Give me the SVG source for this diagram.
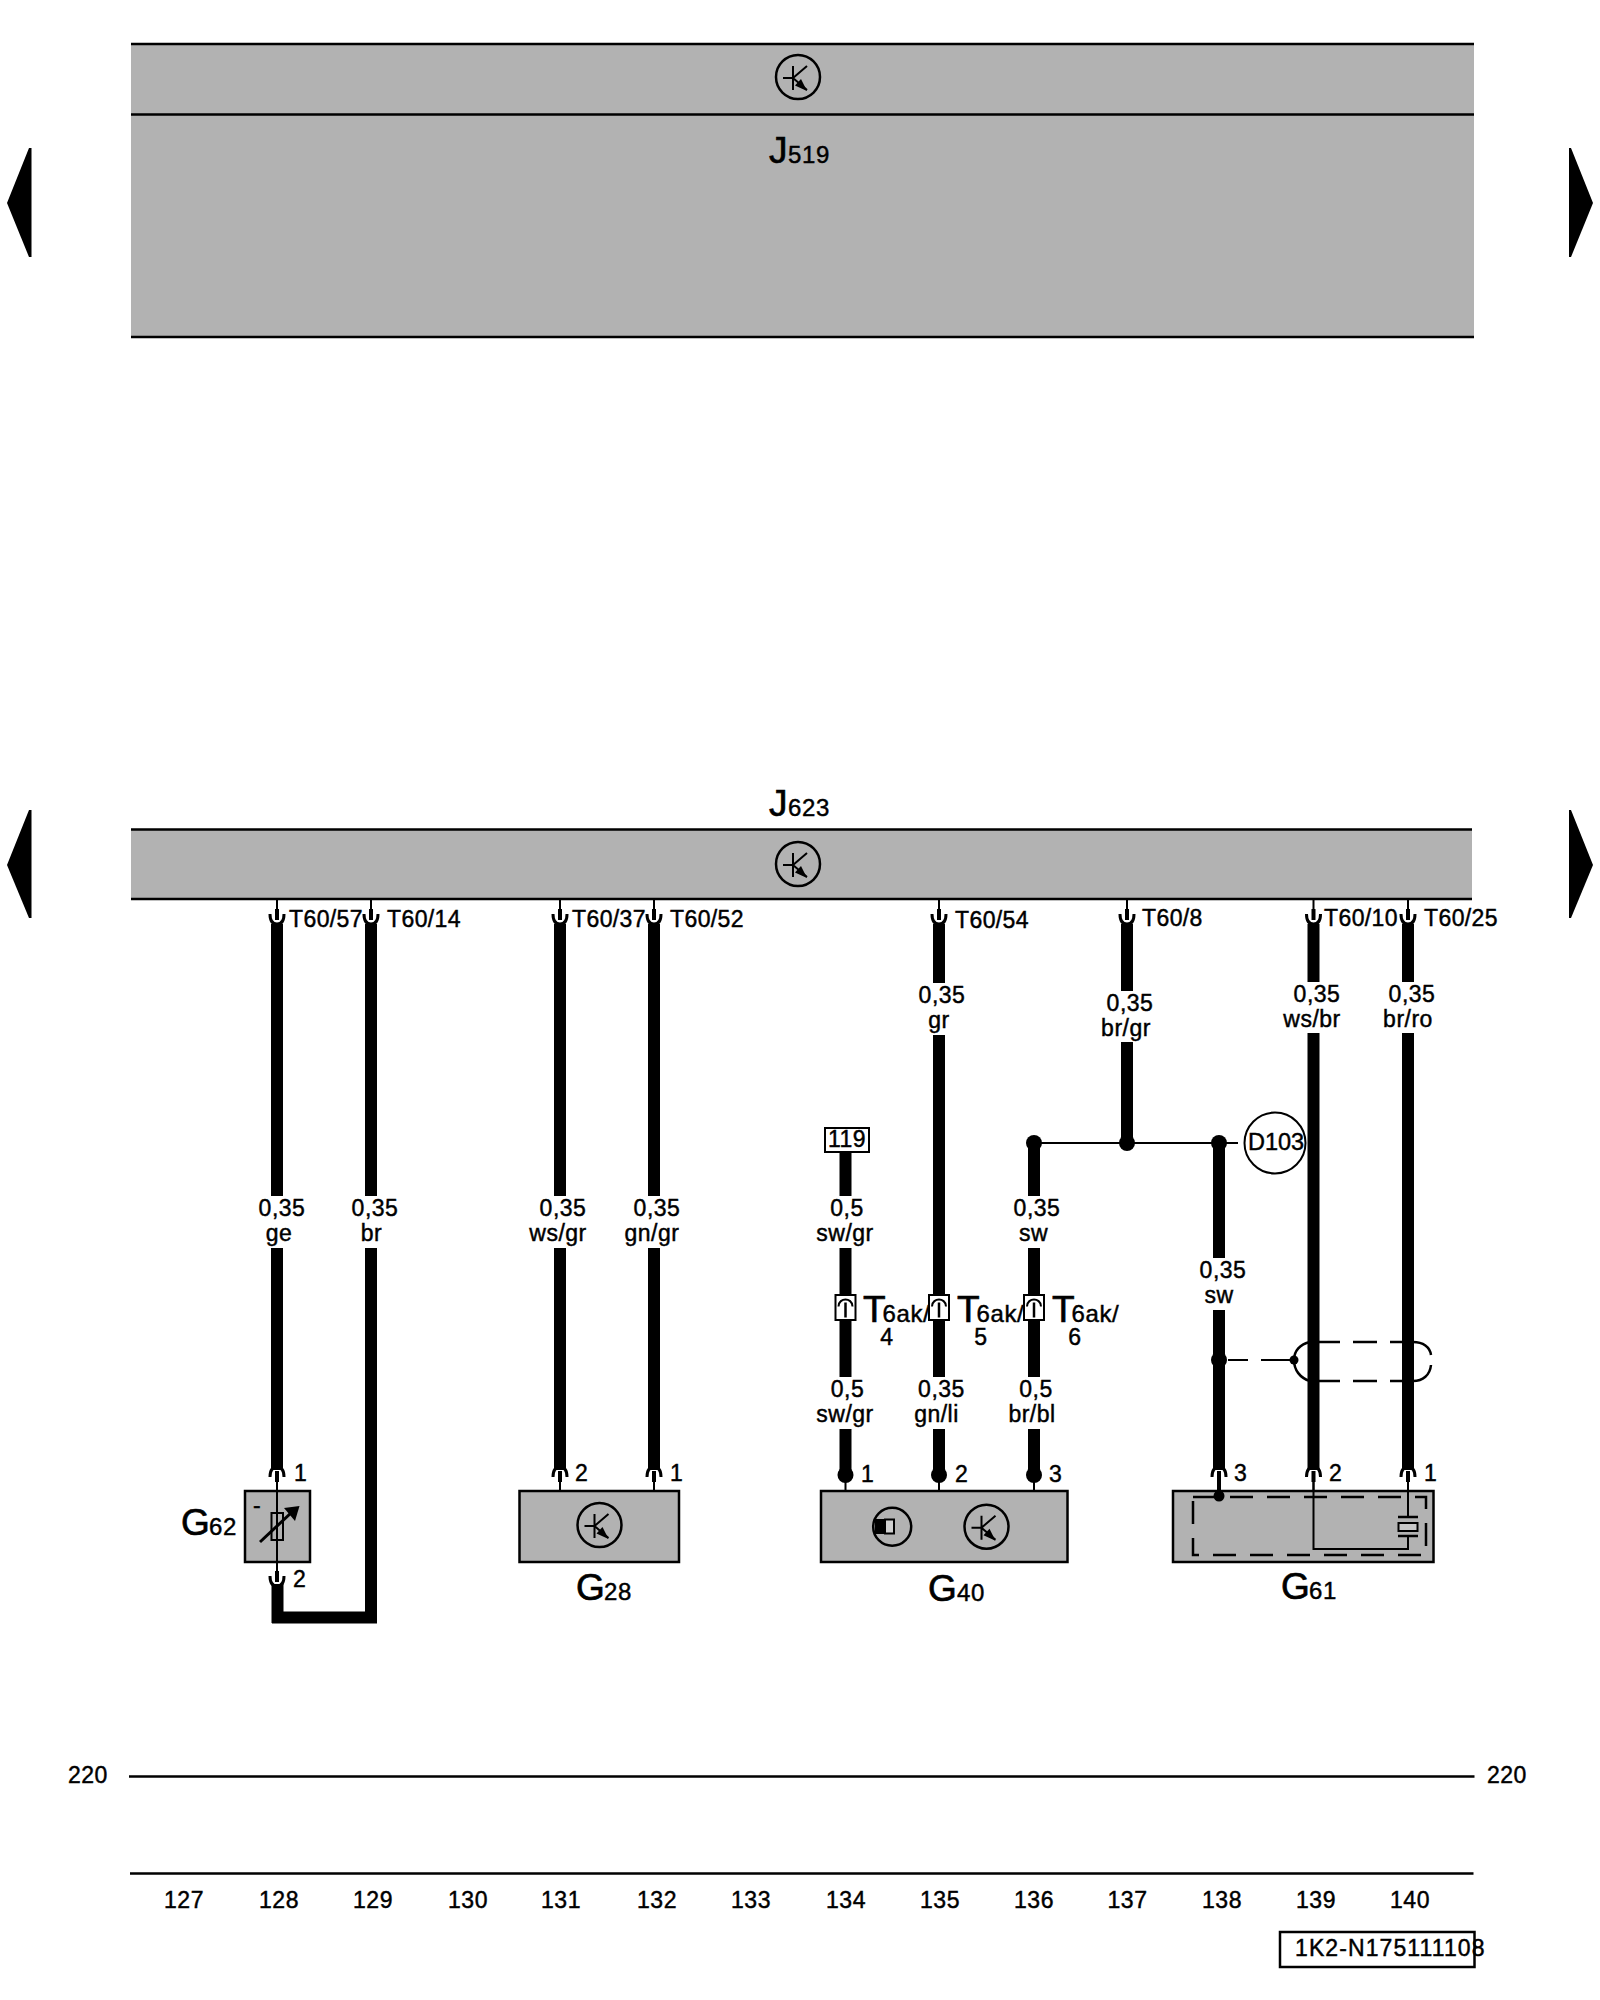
<svg xmlns="http://www.w3.org/2000/svg" xmlns:xlink="http://www.w3.org/1999/xlink" width="1600" height="2000" viewBox="0 0 1600 2000">
<style>
text{font-family:"Liberation Sans",Arial,sans-serif;fill:#000;stroke:#000;stroke-width:.45px}
.t{font-size:23px;letter-spacing:.4px}
.m{font-size:23px;letter-spacing:.5px;text-anchor:middle}
.b{font-size:37px;stroke-width:.7px}
.s{font-size:24px;letter-spacing:.6px}
.w{stroke:#000;stroke-width:12;fill:none}
.l{stroke:#000;stroke-width:2;fill:none}
.r{stroke:#000;stroke-width:2.5;fill:none}
.a{stroke:#000;stroke-width:3;fill:none}
.d{stroke:#000;stroke-width:2.5;fill:none;stroke-dasharray:23 14}
.g{fill:#b2b2b2;stroke:#000;stroke-width:2.5}
.f{fill:#b2b2b2}
</style>
<defs>
<g id="pin">
<path d="M-7,10C-7,3-4,0,0,0C4,0,7,3,7,10" class="a"/>
<rect x="-2" y="4" width="4" height="11"/>
<path d="M0,15V24" class="l"/>
</g>
<g id="tr">
<circle r="22" fill="none" stroke="#000" stroke-width="2.5"/>
<path d="M-5,-11V13M-15,1H-5L9,-11M-5,1L9,13" class="l"/>
<path d="M9,14L-3,8.500L3,2Z"/>
</g>
<g id="t6">
<rect x="-10" y="-12.500" width="20" height="25" fill="#fff" stroke="#000" stroke-width="2"/>
<path d="M-7,-1C-7,-6-3,-8,0,-8C3,-8,7,-6,7,-1" class="l"/>
<path d="M0,-5V10" stroke="#000" stroke-width="2.500"/>
</g>
</defs>

<g id="arrows">
<path d="M7,203L29,148H31.500V257H29Z"/>
<path d="M7,865L29,810H31.500V918H29Z"/>
<path d="M1593,203L1571,148H1569V257H1571Z"/>
<path d="M1593,865L1571,810H1569V918H1571Z"/>
</g>

<g id="J519">
<rect x="131" y="44" width="1343" height="293" class="f"/>
<path d="M131,44H1474M131,114.500H1474M131,337H1474" class="r"/>
<use xlink:href="#tr" href="#tr" transform="translate(798,77)"/>
<text x="769" y="163" class="b">J</text><text x="788" y="163" class="s">519</text>
</g>

<g id="J623">
<rect x="131" y="829.500" width="1341" height="69.500" class="f"/>
<path d="M131,829.500H1472M131,899H1472" class="r"/>
<use xlink:href="#tr" href="#tr" transform="translate(798,864)"/>
<text x="769" y="816" class="b">J</text><text x="788" y="816" class="s">623</text>
<text x="289" y="927" class="t">T60/57</text>
<text x="387" y="927" class="t">T60/14</text>
<text x="572" y="927" class="t">T60/37</text>
<text x="670" y="927" class="t">T60/52</text>
<text x="955" y="928" class="t">T60/54</text>
<text x="1142" y="926" class="t">T60/8</text>
<text x="1324" y="926" class="t">T60/10</text>
<text x="1424" y="926" class="t">T60/25</text>
</g>

<g id="connectors">
<path class="w" d="M277,924V1196M277,1248V1470"/>
<path class="w" d="M371,924V1196M371,1248V1623M272,1617.500H377"/>
<path d="M277.500,1584V1623" class="w"/>
<path class="w" d="M560,924V1196M560,1248V1470"/>
<path class="w" d="M654,924V1196M654,1248V1470"/>
<path class="w" d="M845.500,1152V1196M845.500,1248V1377M845.500,1429V1475"/>
<path class="w" d="M939,924V983M939,1035V1377M939,1429V1475"/>
<path class="w" d="M1034,1143V1196M1034,1248V1377M1034,1429V1475"/>
<path class="w" d="M1127,924V991M1127,1042V1143"/>
<path class="w" d="M1219,1143V1258M1219,1310V1470"/>
<path class="w" d="M1313.500,924V982M1313.500,1033V1470"/>
<path class="w" d="M1408,924V982M1408,1033V1470"/>
<path d="M1034,1143H1238" class="l"/>
<g fill="#000">
<circle cx="1034" cy="1143" r="8"/><circle cx="1127" cy="1143" r="8"/><circle cx="1219" cy="1143" r="8"/>
<circle cx="1219" cy="1360" r="8"/><circle cx="1294" cy="1360" r="4.500"/>
<circle cx="845.500" cy="1475" r="8"/><circle cx="939" cy="1475" r="8"/><circle cx="1034" cy="1475" r="8"/>
</g>
<path d="M845.500,1475V1491M939,1475V1491M1034,1475V1491" class="l"/>
<path d="M1228,1360H1248M1261,1360H1290" class="l"/>
<path d="M1310,1342C1300,1344,1294,1351,1294,1360C1294,1370,1300,1378,1310,1381M1318,1342H1340M1353,1342H1377M1390,1342H1413C1423,1342,1430,1347,1431,1355M1431,1365C1430,1375,1423,1381,1413,1381H1390M1377,1381H1353M1340,1381H1318" class="r"/>
<g id="pins">
<use xlink:href="#pin" href="#pin" transform="translate(277,924) scale(1,-1)"/>
<use xlink:href="#pin" href="#pin" transform="translate(371,924) scale(1,-1)"/>
<use xlink:href="#pin" href="#pin" transform="translate(560,924) scale(1,-1)"/>
<use xlink:href="#pin" href="#pin" transform="translate(654,924) scale(1,-1)"/>
<use xlink:href="#pin" href="#pin" transform="translate(939,924) scale(1,-1)"/>
<use xlink:href="#pin" href="#pin" transform="translate(1127,924) scale(1,-1)"/>
<use xlink:href="#pin" href="#pin" transform="translate(1313.500,924) scale(1,-1)"/>
<use xlink:href="#pin" href="#pin" transform="translate(1408,924) scale(1,-1)"/>
<use xlink:href="#pin" href="#pin" transform="translate(277,1467)"/>
<use xlink:href="#pin" href="#pin" transform="translate(277,1586) scale(1,-1)"/>
<use xlink:href="#pin" href="#pin" transform="translate(560,1467)"/>
<use xlink:href="#pin" href="#pin" transform="translate(654,1467)"/>
<use xlink:href="#pin" href="#pin" transform="translate(1219,1467)"/>
<use xlink:href="#pin" href="#pin" transform="translate(1313.500,1467)"/>
<use xlink:href="#pin" href="#pin" transform="translate(1408,1467)"/>
</g>
<g id="labels">
<text x="282" y="1216" class="m">0,35</text><text x="279" y="1241" class="m">ge</text>
<text x="375" y="1216" class="m">0,35</text><text x="371.500" y="1241" class="m">br</text>
<text x="563" y="1216" class="m">0,35</text><text x="558" y="1241" class="m">ws/gr</text>
<text x="657" y="1216" class="m">0,35</text><text x="652" y="1241" class="m">gn/gr</text>
<text x="847" y="1216" class="m">0,5</text><text x="845" y="1241" class="m">sw/gr</text>
<text x="1037" y="1216" class="m">0,35</text><text x="1033.500" y="1241" class="m">sw</text>
<text x="942" y="1003" class="m">0,35</text><text x="939" y="1028" class="m">gr</text>
<text x="1130" y="1011" class="m">0,35</text><text x="1126" y="1036" class="m">br/gr</text>
<text x="1317" y="1002" class="m">0,35</text><text x="1312" y="1027" class="m">ws/br</text>
<text x="1412" y="1002" class="m">0,35</text><text x="1408" y="1027" class="m">br/ro</text>
<text x="1223" y="1278" class="m">0,35</text><text x="1219" y="1303" class="m">sw</text>
<text x="847.500" y="1397" class="m">0,5</text><text x="845" y="1422" class="m">sw/gr</text>
<text x="941.500" y="1397" class="m">0,35</text><text x="936.500" y="1422" class="m">gn/li</text>
<text x="1036" y="1397" class="m">0,5</text><text x="1032" y="1422" class="m">br/bl</text>
</g>
</g>

<g id="ref119">
<rect x="825" y="1128" width="44" height="24" fill="#fff" stroke="#000" stroke-width="2"/>
<text x="847" y="1147" class="m">119</text>
</g>

<g id="D103">
<circle cx="1275" cy="1143" r="30.500" fill="none" stroke="#000" stroke-width="2"/>
<text x="1248" y="1150" font-size="23.500">D103</text>
</g>

<g id="T6ak4">
<use xlink:href="#t6" href="#t6" transform="translate(845.500,1307.500)"/>
<text x="863" y="1322"><tspan class="b">T</tspan><tspan class="s" dx="-3">6ak/</tspan></text>
<text x="887" y="1345" class="m">4</text>
</g>
<g id="T6ak5">
<use xlink:href="#t6" href="#t6" transform="translate(939,1307.500)"/>
<text x="957" y="1322"><tspan class="b">T</tspan><tspan class="s" dx="-3">6ak/</tspan></text>
<text x="981" y="1345" class="m">5</text>
</g>
<g id="T6ak6">
<use xlink:href="#t6" href="#t6" transform="translate(1034,1307.500)"/>
<text x="1052" y="1322"><tspan class="b">T</tspan><tspan class="s" dx="-3">6ak/</tspan></text>
<text x="1075" y="1345" class="m">6</text>
</g>

<g id="G62">
<rect x="245" y="1491" width="65" height="71" class="g"/>
<path d="M277,1482V1571" class="l"/>
<rect x="271.500" y="1513" width="11.500" height="27" fill="none" stroke="#000" stroke-width="2"/>
<path d="M260,1542L292,1512" class="a"/>
<path d="M299.500,1506L284,1508L295,1521Z"/>
<text x="253" y="1513" class="t">-</text>
<text x="181" y="1535" class="b">G</text><text x="209" y="1535" class="s">62</text>
<text x="294" y="1481" class="t">1</text>
<text x="293" y="1587" class="t">2</text>
</g>

<g id="G28">
<rect x="519.500" y="1491" width="159.500" height="71" class="g"/>
<use xlink:href="#tr" href="#tr" transform="translate(599.500,1525)"/>
<text x="576" y="1600" class="b">G</text><text x="604" y="1600" class="s">28</text>
<text x="575" y="1481" class="t">2</text>
<text x="670" y="1481" class="t">1</text>
</g>

<g id="G40">
<rect x="821" y="1491" width="246.500" height="71" class="g"/>
<circle cx="892.200" cy="1526.700" r="19" fill="none" stroke="#000" stroke-width="2.500"/>
<rect x="875" y="1519" width="10" height="15"/>
<rect x="885" y="1519.500" width="9" height="14" fill="#d0d0d0" stroke="#000" stroke-width="2"/>
<use xlink:href="#tr" href="#tr" transform="translate(986.500,1526.700)"/>
<text x="928" y="1601" class="b">G</text><text x="957" y="1601" class="s">40</text>
<text x="861" y="1482" class="t">1</text>
<text x="955" y="1482" class="t">2</text>
<text x="1049" y="1482" class="t">3</text>
</g>

<g id="G61">
<rect x="1173" y="1491" width="260.500" height="71" class="g"/>
<rect x="1193" y="1497" width="233" height="58" class="d"/>
<circle cx="1219" cy="1496" r="5.500"/>
<path d="M1219,1482V1496" stroke="#000" stroke-width="4"/>
<path d="M1313.500,1482V1549H1408V1536M1408,1482V1517" class="l"/>
<path d="M1398,1517H1418M1398,1536H1418" class="r"/>
<rect x="1398.500" y="1523" width="19" height="8" fill="#c8c8c8" stroke="#000" stroke-width="2"/>
<text x="1281" y="1599" class="b">G</text><text x="1309" y="1599" class="s">61</text>
<text x="1234" y="1481" class="t">3</text>
<text x="1329" y="1481" class="t">2</text>
<text x="1424" y="1481" class="t">1</text>
</g>

<g id="footer">
<path d="M129,1776.500H1474.500M130,1873.500H1473.500" class="r"/>
<text x="68" y="1783" class="t">220</text>
<text x="1487" y="1783" class="t">220</text>
<text x="184" y="1908" class="m">127</text>
<text x="279" y="1908" class="m">128</text>
<text x="373" y="1908" class="m">129</text>
<text x="468" y="1908" class="m">130</text>
<text x="561" y="1908" class="m">131</text>
<text x="657" y="1908" class="m">132</text>
<text x="751" y="1908" class="m">133</text>
<text x="846" y="1908" class="m">134</text>
<text x="940" y="1908" class="m">135</text>
<text x="1034" y="1908" class="m">136</text>
<text x="1127.500" y="1908" class="m">137</text>
<text x="1222" y="1908" class="m">138</text>
<text x="1316" y="1908" class="m">139</text>
<text x="1410" y="1908" class="m">140</text>
<rect x="1280" y="1932" width="194.500" height="35" fill="none" stroke="#000" stroke-width="2.500"/>
<text x="1295" y="1956" font-size="23" letter-spacing="1.100">1K2-N175111108</text>
</g>
</svg>
